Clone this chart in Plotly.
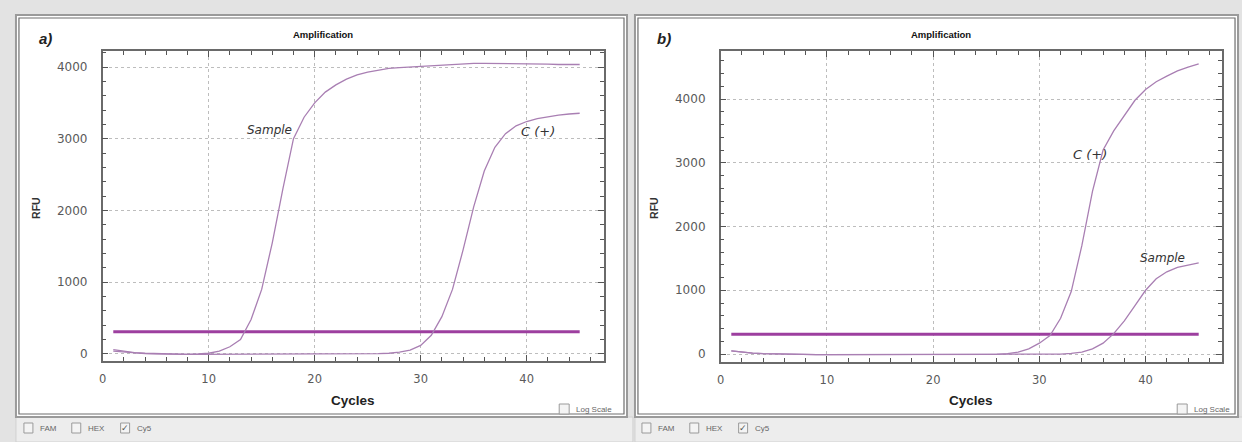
import plotly.graph_objects as go

W, H = 1242, 442

# ---------------- data ----------------
cycles = list(range(1, 46))

# panel a
a_sample = [60, 35, 20, 10, 5, 0, -5, -5, 0, 10, 40, 100, 200, 480, 900, 1550, 2300, 3000, 3300, 3500,
            3650, 3750, 3830, 3890, 3930, 3960, 3980, 3990, 4000, 4005, 4015, 4025, 4035, 4045, 4050, 4050,
            4050, 4045, 4045, 4040, 4040, 4040, 4035, 4035, 4035]
a_cpos = [40, 25, 15, 5, 0, -5, -5, -5, -5, -5, -5, -5, -5, -5, -5, -5, -5, -5, -5, -5,
          -5, -5, -5, -5, 0, 5, 10, 25, 55, 120, 260, 520, 900, 1450, 2050, 2550, 2880, 3070,
          3180, 3240, 3280, 3310, 3330, 3345, 3355]
a_threshold = 310

# panel b
b_cpos = [50, 30, 15, 5, 0, -5, -10, -10, -10, -10, -10, -10, -10, -10, -10, -10, -10, -10, -10, -10,
          -10, -10, -10, -10, -10, -5, 5, 30, 80, 170, 290, 560, 980, 1700, 2550, 3200, 3500, 3750,
          3980, 4150, 4270, 4360, 4440, 4500, 4550]
b_sample = [50, 30, 15, 5, 0, -5, -10, -10, -10, -10, -10, -10, -10, -10, -10, -10, -10, -10, -10, -10,
            -10, -10, -10, -10, -10, -10, -10, -10, -10, -10, -5, 0, 10, 30, 80, 170, 320, 520,
            760, 1000, 1180, 1290, 1360, 1400, 1430]
b_threshold = 310

x_ticks = [0, 10, 20, 30, 40]
y_ticks = [0, 1000, 2000, 3000, 4000]
x_minor = list(range(0, 48, 2))
y_minor = list(range(-200, 4801, 200))

# ---------------- helpers ----------------
def px(x):
    return x / W

def py(y):
    return 1 - y / H

CURVE = "#a97fb3"
THR = "#9d3f9f"
FONT = "Liberation Sans"
TICKFONT = "DejaVu Sans"

fig = go.Figure()

def add_curve(x, y, xa, ya):
    fig.add_trace(go.Scatter(x=x, y=y, mode="lines", line=dict(color=CURVE, width=1.3),
                             xaxis=xa, yaxis=ya, showlegend=False, hoverinfo="skip"))

def add_thr(v, xa, ya):
    fig.add_trace(go.Scatter(x=[cycles[0], cycles[-1]], y=[v, v], mode="lines",
                             line=dict(color=THR, width=3), xaxis=xa, yaxis=ya,
                             showlegend=False, hoverinfo="skip"))

add_thr(a_threshold, "x", "y")
add_curve(cycles, a_sample, "x", "y")
add_curve(cycles, a_cpos, "x", "y")
add_thr(b_threshold, "x2", "y2")
add_curve(cycles, b_cpos, "x2", "y2")
add_curve(cycles, b_sample, "x2", "y2")

def xaxis(domain, rng, anchor):
    return dict(domain=domain, range=rng, anchor=anchor, tickmode="array", tickvals=x_ticks,
                showline=True, linecolor="#6a6a6a", linewidth=1.5, mirror="allticks",
                ticks="inside", ticklen=6, tickcolor="#555", tickwidth=1.4,
                showgrid=True, gridcolor="#bdbdbd", griddash="dot", gridwidth=1,
                zeroline=False, tickfont=dict(family=TICKFONT, size=11.5, color="#5a5a5a"),
                ticklabelstandoff=6,
                minor=dict(tickmode="array", tickvals=x_minor, ticks="inside", ticklen=4,
                           tickcolor="#555", tickwidth=1.3, showgrid=False))

def yaxis(domain, rng, anchor):
    return dict(domain=domain, range=rng, anchor=anchor, tickmode="array", tickvals=y_ticks,
                showline=True, linecolor="#6a6a6a", linewidth=1.5, mirror="allticks",
                ticks="inside", ticklen=6, tickcolor="#555", tickwidth=1.4,
                showgrid=True, gridcolor="#bdbdbd", griddash="dot", gridwidth=1,
                zeroline=False, tickfont=dict(family=TICKFONT, size=12, color="#5a5a5a"),
                ticklabelstandoff=11,
                minor=dict(tickmode="array", tickvals=y_minor, ticks="inside", ticklen=4,
                           tickcolor="#555", tickwidth=1.3, showgrid=False))

fig.update_layout(
    width=W, height=H, margin=dict(l=0, r=0, t=0, b=0),
    paper_bgcolor="#e3e3e3", plot_bgcolor="white",
    xaxis=xaxis([px(99), px(602)], [0, 47.3], "y"),
    yaxis=yaxis([py(361), py(51)], [-98, 4223], "x"),
    xaxis2=xaxis([px(719), px(1222)], [0, 47.2], "y2"),
    yaxis2=yaxis([py(362), py(51)], [-125, 4753], "x2"),
)

shapes = []
annotations = []

def rect(x0, y0, x1, y1, fill=None, line=None, lw=1):
    shapes.append(dict(type="rect", xref="paper", yref="paper",
                       x0=px(x0), x1=px(x1), y0=py(y1), y1=py(y0),
                       fillcolor=fill if fill else "rgba(0,0,0,0)",
                       line=dict(color=line if line else "rgba(0,0,0,0)", width=lw),
                       layer="below"))

def text(x, y, s, size=11, color="#333", bold=False, italic=False, angle=0, anchor="center", family=FONT):
    if bold:
        s = "<b>" + s + "</b>"
    if italic:
        s = "<i>" + s + "</i>"
    annotations.append(dict(x=px(x), y=py(y), xref="paper", yref="paper", text=s, showarrow=False,
                            font=dict(family=family, size=size, color=color), textangle=angle,
                            xanchor=anchor, yanchor="middle"))

def panel(x0, x1, label, dx):
    # bottom bar
    rect(x0, 417, x1 + 6, 442, fill="#ededed", line="#d0d0d0", lw=1)
    # panel frame
    rect(x0, 15, x1, 417, fill="white", line="#9a9a9a", lw=2)
    rect(x0 + 3, 18, x1 - 3, 414, line="#6e6e6e", lw=1.2)
    # label & title
    text(dx + 42, 38, label, size=15, color="#222", bold=True, italic=True)
    text(dx + 320, 35, "Amplification", size=9.5, color="#111", bold=True)
    text(dx + 32, 208, "RFU", size=10.5, color="#333", bold=True, angle=-90)
    text(dx + 350, 400, "Cycles", size=13.5, color="#222", bold=True)
    # checkboxes
    for bx, lab, chk in [(20, "FAM", False), (68, "HEX", False), (117, "Cy5", True)]:
        rect(dx + bx, 423, dx + bx + 9, 433, fill="#f4f4f4", line="#9a9a9a", lw=1)
        if chk:
            text(dx + bx + 4.5, 428, "✓", size=9, color="#555")
        text(dx + bx + 14, 428, lab, size=8, color="#666", anchor="left")
    rect(dx + 557, 404, dx + 567, 414, fill="#f4f4f4", line="#9a9a9a", lw=1)
    text(dx + 572, 409.5, "Log Scale", size=8, color="#666", anchor="left")

panel(12, 625, "a)", 0)
panel(633, 1238, "b)", 620)

# curve labels
HAND = "DejaVu Sans"
text(266, 130, "Sample", size=12, color="#333", italic=True, family=HAND)
text(536, 131, "C (+)", size=13, color="#333", italic=True, family=HAND)
text(1090, 154, "C (+)", size=13, color="#333", italic=True, family=HAND)
text(1162, 258, "Sample", size=12, color="#333", italic=True, family=HAND)

fig.update_layout(shapes=shapes, annotations=annotations)
fig.write_html("out.html", config={"displayModeBar": False},
               post_script="document.body.style.margin='0';document.body.style.padding='0';"
                           "document.body.style.overflow='hidden';")
